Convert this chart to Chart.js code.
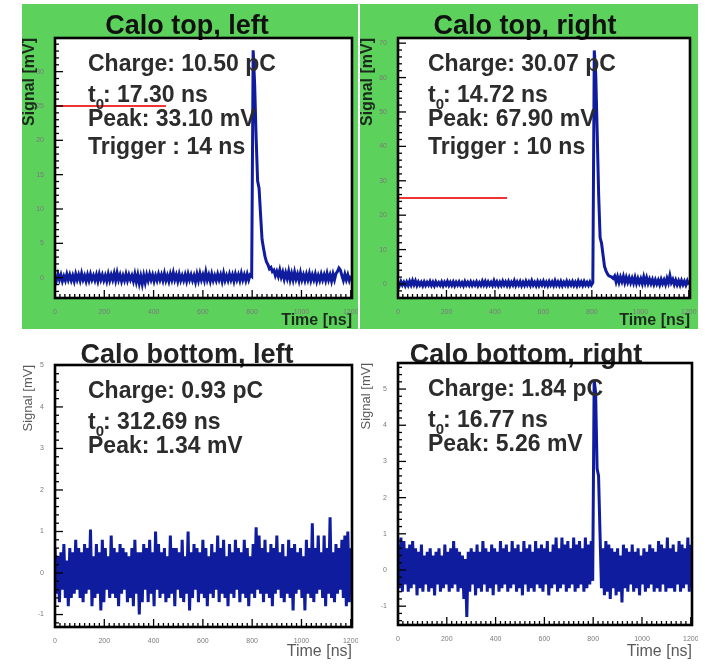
<!DOCTYPE html>
<html>
<head>
<meta charset="utf-8">
<script src="https://cdn.jsdelivr.net/npm/chart.js@4.4.1/dist/chart.umd.min.js"></script>
<style>
  html, body { margin: 0; padding: 0; background: #fff; }
  body { width: 717px; height: 664px; position: relative; overflow: hidden; }
  .panel { position: absolute; }
  .panel canvas { display: block; }
  .green { background: #5cd25c; }
</style>
</head>
<body>
<div class="panel green" style="left:22px;top:4px"><canvas id="calo-top-left" width="336" height="325"></canvas></div>
<div class="panel green" style="left:360px;top:4px"><canvas id="calo-top-right" width="338" height="325"></canvas></div>
<div class="panel" style="left:22px;top:333px"><canvas id="calo-bottom-left" width="336" height="327"></canvas></div>
<div class="panel" style="left:360px;top:333px"><canvas id="calo-bottom-right" width="338" height="327"></canvas></div>

<script>
// digitizer sampling step of the stored waveforms
const SAMPLE_NS = 6

const timeTicksNs = [0, 200, 400, 600, 800, 1000, 1200]

// waveforms [mV], one sample every SAMPLE_NS
const topLeftMv = [
  0.3,-0.4,0.5,-0.3,0.4,-0.5,0.2,-0.4,0.5,-0.3,
  0.4,-0.4,0.3,-0.5,0.5,-0.3,0.4,-0.4,0.6,-0.3,
  0.3,-0.5,0.4,-0.4,0.5,-0.3,0.3,-0.4,0.4,-0.5,
  0.5,-0.3,0.4,-0.4,0.3,-0.5,0.5,-0.4,0.4,-0.3,
  0.6,-0.4,0.7,-0.3,0.4,-0.5,0.3,-0.4,0.5,-0.4,
  0.4,-0.3,0.3,-0.5,0.5,-0.6,0.4,-0.8,0.2,-0.9,
  0.3,-0.7,0.4,-0.4,0.5,-0.3,0.4,-0.5,0.3,-0.4,
  0.5,-0.3,0.4,-0.4,0.6,-0.4,0.3,-0.5,0.5,-0.3,
  0.7,-0.3,0.4,-0.5,0.5,-0.4,0.3,-0.4,0.4,-0.5,
  0.5,-0.3,0.4,-0.4,0.3,-0.6,0.5,-0.4,0.6,-0.3,
  0.4,-0.4,0.8,-0.3,0.4,-0.5,0.5,-0.4,0.3,-0.4,
  0.5,-0.3,0.4,-0.5,0.6,-0.4,0.3,-0.4,0.5,-0.3,
  0.4,-0.5,0.5,-0.3,0.4,-0.4,0.6,-0.3,0.4,-0.4,
  0.5,-0.3,0.4,0.2,
  33.1,28.2,20.4,14.1,13.0,9.2,5.6,4.3,3.1,2.3,1.9,1.3,1.5,0.9,1.1,
  0.3,0.9,0.2,1.1,0.1,0.8,-0.2,0.7,-0.1,0.9,-0.3,
  0.6,-0.3,0.8,-0.2,0.5,-0.4,0.7,-0.3,0.4,-0.4,
  0.5,-0.3,0.6,-0.4,0.4,-0.3,0.5,-0.5,0.3,-0.4,
  0.5,-0.3,0.4,-0.4,0.6,-0.3,0.4,-0.5,0.5,-0.3,
  0.6,0.9,1.4,1.1,0.3,-0.4,0.5,-0.3,0.4,-0.4,0.3
]

const topRightMv = [
  0.6,-0.4,0.7,-0.3,0.5,-0.5,0.6,-0.4,0.8,-0.3,
  1.0,-0.2,0.9,-0.4,0.6,-0.3,0.5,-0.5,0.6,-0.4,
  0.5,-0.3,0.7,-0.4,0.5,-0.5,0.6,-0.3,0.4,-0.4,
  0.6,-0.5,0.5,-0.3,0.7,-0.4,0.5,-0.4,0.6,-0.5,
  0.5,-0.3,0.6,-0.4,0.4,-0.5,0.7,-0.3,0.5,-0.4,
  0.6,-0.4,0.5,-0.3,0.6,-0.5,0.4,-0.4,0.8,-0.3,
  0.7,-0.4,0.6,-0.3,0.5,-0.4,0.9,-0.3,0.6,-0.5,
  0.5,-0.4,0.8,-0.3,0.6,-0.4,0.7,-0.5,0.5,-0.3,
  0.9,-0.4,0.6,-0.3,0.7,-0.5,0.5,-0.4,0.8,-0.3,
  0.6,-0.4,0.9,-0.3,0.5,-0.5,0.7,-0.4,0.6,-0.3,
  0.8,-0.4,0.5,-0.5,0.7,-0.3,0.6,-0.4,0.9,-0.3,
  0.6,-0.4,0.7,-0.5,0.5,-0.3,0.8,-0.4,0.6,-0.3,
  0.7,-0.4,0.5,-0.5,0.8,-0.3,0.6,-0.4,0.7,-0.3,
  0.5,-0.4,0.6,-0.3,0.4,
  67.9,61.0,44.0,26.0,13.5,11.8,8.5,5.2,3.9,3.0,2.4,2.2,2.0,1.6,
  2.3,0.6,2.1,0.5,2.0,0.7,2.2,0.4,1.9,0.5,1.8,
  0.4,1.7,0.3,1.9,0.2,1.6,0.3,1.5,0.1,2.0,
  0.3,1.8,0.2,1.4,0.1,1.3,-0.1,1.2,0.0,1.1,
  -0.2,1.3,0.1,1.2,-0.1,1.6,0.3,2.4,0.4,1.3,
  -0.1,1.1,-0.2,0.9,-0.3,1.0,-0.2,0.8,-0.3,0.9,-0.2
]

const bottomLeftMv = [
  0.6,-0.5,0.4,-0.7,0.5,-0.4,0.7,-0.6,0.3,-0.8,
  0.6,-0.6,0.5,-0.5,0.8,-0.4,0.6,-0.6,0.5,-0.7,
  0.7,-0.5,0.6,-0.4,1.05,-0.8,0.4,-0.6,0.7,-0.5,
  0.5,-0.9,0.8,-0.7,0.6,-0.4,0.4,-0.6,0.9,-0.5,
  0.6,-0.6,0.5,-0.8,0.7,-0.5,0.6,-0.4,0.5,-0.7,
  0.4,-0.6,0.6,-0.8,0.8,-0.5,0.5,-1.0,0.5,-0.7,
  0.7,-0.4,0.6,-0.7,0.8,-0.5,0.5,-0.8,1.0,-0.4,
  0.7,-0.6,0.5,-0.5,0.6,-0.7,0.4,-0.6,0.9,-0.5,
  0.6,-0.8,0.6,-0.4,0.5,-0.6,0.8,-0.7,0.4,-0.5,
  1.0,-0.9,0.5,-0.6,0.7,-0.4,0.6,-0.7,0.5,-0.5,
  0.8,-0.6,0.6,-0.8,0.4,-0.5,0.7,-0.6,0.5,-0.4,
  0.9,-0.7,0.6,-0.5,0.8,-0.6,0.4,-0.8,0.7,-0.5,
  0.5,-0.6,0.8,-0.4,0.6,-0.7,0.5,-0.5,0.8,-0.6,
  0.6,-0.8,0.4,-0.5,0.7,-0.6,1.1,-0.4,0.9,-0.5,
  0.6,-0.7,0.8,-0.5,0.5,-0.6,0.7,-0.8,0.6,-0.5,
  0.9,-0.4,0.5,-0.6,0.7,-0.7,0.4,-0.5,0.8,-0.6,
  0.6,-0.9,0.7,-0.5,0.5,-0.4,0.6,-0.6,0.4,-0.9,
  0.8,-0.5,0.6,-0.6,1.2,-0.7,0.6,-0.5,0.9,-0.4,
  0.5,-0.6,0.9,-0.8,0.6,-0.5,1.34,-0.6,0.5,-0.7,
  0.7,-0.5,0.6,-0.4,0.8,-0.6,0.9,-0.8,1.0,-0.7,
  0.6
]

const bottomRightMv = [
  0.7,-0.5,0.9,-0.6,0.8,-0.4,0.6,-0.6,0.7,-0.5,
  0.8,-0.4,0.6,-0.7,0.5,-0.5,0.7,-0.6,0.4,-0.4,
  0.5,-0.6,0.6,-0.5,0.4,-0.7,0.5,-0.4,0.6,-0.6,
  0.4,-0.5,0.7,-0.4,0.5,-0.6,0.6,-0.5,0.8,-0.4,
  0.6,-0.6,0.5,-0.5,0.4,-0.8,0.3,-1.3,0.5,-0.6,
  0.6,-0.4,0.5,-0.7,0.7,-0.5,0.5,-0.6,0.8,-0.4,
  0.6,-0.6,0.5,-0.5,0.7,-0.7,0.6,-0.4,0.5,-0.6,
  0.8,-0.5,0.6,-0.4,0.7,-0.6,0.5,-0.5,0.8,-0.4,
  0.6,-0.6,0.7,-0.5,0.5,-0.7,0.8,-0.4,0.6,-0.6,
  0.7,-0.5,0.5,-0.6,0.8,-0.4,0.6,-0.5,0.7,-0.6,
  0.6,-0.4,0.8,-0.7,0.5,-0.5,0.7,-0.4,0.9,-0.6,
  0.6,-0.5,0.9,-0.4,0.7,-0.6,0.8,-0.5,0.6,-0.4,
  0.9,-0.6,0.7,-0.5,0.8,-0.4,0.6,-0.6,0.9,-0.5,
  0.7,-0.4,0.8,-0.3,
  5.26,4.9,2.8,2.6,1.0,-0.5,0.6,-0.7,
  0.8,-0.6,0.7,-0.8,0.6,-0.5,0.5,-0.7,
  0.6,-0.6,0.4,-0.9,0.7,-0.5,0.6,-0.6,0.5,-0.4,
  0.7,-0.6,0.5,-0.5,0.6,-0.7,0.4,-0.4,0.6,-0.6,
  0.5,-0.5,0.7,-0.4,0.6,-0.6,0.5,-0.5,0.8,-0.6,
  0.7,-0.4,0.6,-0.6,0.9,-0.5,0.6,-0.5,0.7,-0.6,
  0.5,-0.4,0.8,-0.6,0.7,-0.5,0.6,-0.4,0.9,-0.6,
  0.7
]

// reconstructed pulse parameters, one entry per channel
const chargePc = [10.50, 30.07, 0.93, 1.84]
const t0Ns = [17.30, 14.72, 312.69, 16.77]
const peakMv = [33.10, 67.90, 1.34, 5.26]
const triggerNs = [14, 10, null, null]

// discriminator threshold drawn on the top channels
const thresholdMv = [25, 25, null, null]
const thresholdWindowNs = [0, 450]

const topLeftTicks = [0, 5, 10, 15, 20, 25, 30]
const topRightTicks = [0, 10, 20, 30, 40, 50, 60, 70]
const bottomLeftTicks = [-1, 0, 1, 2, 3, 4, 5]
const bottomRightTicks = [-1, 0, 1, 2, 3, 4, 5]

const FONT = '"Liberation Sans", Arial, sans-serif'
Chart.defaults.font.family = FONT

const panels = [
  { id: 'calo-top-left', title: 'Calo top, left', signal: topLeftMv, yTicks: topLeftTicks,
    yMin: -2.96, yMax: 34.9, yMinor: 1, top: true,
    box: { yw: 33, xh: 31, padRight: 6, titleTop: 6.5, titleBottom: -4.9, textDx: 33 } },
  { id: 'calo-top-right', title: 'Calo top, right', signal: topRightMv, yTicks: topRightTicks,
    yMin: -4.07, yMax: 71.5, yMinor: 2, top: true,
    box: { yw: 38, xh: 31, padRight: 8, titleTop: 6.5, titleBottom: -4.9, textDx: 30 } },
  { id: 'calo-bottom-left', title: 'Calo bottom, left', signal: bottomLeftMv, yTicks: bottomLeftTicks,
    yMin: -1.3, yMax: 5.01, yMinor: 0.2, top: false,
    box: { yw: 33, xh: 33, padRight: 6, titleTop: 6, titleBottom: -6.4, textDx: 33 } },
  { id: 'calo-bottom-right', title: 'Calo bottom, right', signal: bottomRightMv, yTicks: bottomRightTicks,
    yMin: -1.52, yMax: 5.72, yMinor: 0.2, top: false,
    box: { yw: 38, xh: 35, padRight: 6, titleTop: 6, titleBottom: -8.4, textDx: 30 } }
]

// white pad, inward ticks and black frame like the DAQ display
const rootFrame = {
  id: 'rootFrame',
  beforeDraw(chart) {
    const { ctx, chartArea: a } = chart
    ctx.save()
    ctx.fillStyle = '#fff'
    ctx.fillRect(a.left, a.top, a.right - a.left, a.bottom - a.top)
    ctx.restore()
  },
  afterDatasetsDraw(chart, args, opts) {
    const { ctx, chartArea: a, scales } = chart
    ctx.save()
    ctx.strokeStyle = '#000'
    ctx.lineWidth = 1.3
    const drawTicks = (scale, minor, major, horizontal) => {
      const start = Math.ceil(scale.min / minor)
      const end = Math.floor(scale.max / minor)
      for (let k = start; k <= end; k++) {
        const v = Math.round(k * minor * 1000) / 1000
        const isMajor = Math.abs(v / major - Math.round(v / major)) < 1e-6
        const len = isMajor ? 8 : 4
        const p = scale.getPixelForValue(v)
        ctx.beginPath()
        if (horizontal) {
          ctx.moveTo(p, a.bottom)
          ctx.lineTo(p, a.bottom - len)
        } else {
          ctx.moveTo(a.left, p)
          ctx.lineTo(a.left + len, p)
        }
        ctx.stroke()
      }
    }
    drawTicks(scales.x, opts.xMinor, opts.xMajor, true)
    drawTicks(scales.y, opts.yMinor, opts.yMajor, false)
    ctx.lineWidth = 2.6
    ctx.strokeRect(a.left, a.top, a.right - a.left, a.bottom - a.top)
    ctx.restore()
  }
}

// fit results printed in the pad
const padNotes = {
  id: 'padNotes',
  afterDraw(chart, args, opts) {
    const { ctx, chartArea: a } = chart
    const baselines = [33, 64, 88, 116]
    ctx.save()
    ctx.fillStyle = '#2c2c2c'
    ctx.textBaseline = 'alphabetic'
    opts.lines.forEach((segments, i) => {
      let x = a.left + opts.dx
      const y = a.top + baselines[i]
      segments.forEach(seg => {
        ctx.font = seg.sub ? `bold 15px ${FONT}` : `bold 23px ${FONT}`
        ctx.fillText(seg.text, x, seg.sub ? y + 7 : y)
        x += ctx.measureText(seg.text).width - (seg.sub ? 1 : 0)
      })
    })
    ctx.restore()
  }
}

function noteLines(k) {
  const lines = [
    [{ text: `Charge: ${chargePc[k].toFixed(2)} pC` }],
    [{ text: 't' }, { text: '0', sub: true }, { text: `: ${t0Ns[k].toFixed(2)} ns` }],
    [{ text: `Peak: ${peakMv[k].toFixed(2)} mV` }]
  ]
  if (triggerNs[k] != null) lines.push([{ text: `Trigger : ${triggerNs[k]} ns` }])
  return lines
}

function buildPanel(p, k) {
  const canvas = document.getElementById(p.id)
  const axisColor = p.top ? '#1c2a1c' : '#5a5a5a'
  const datasets = [{
    data: p.signal.map((v, i) => ({ x: i * SAMPLE_NS, y: v })),
    borderColor: '#101c9e', borderWidth: 3, pointRadius: 0, tension: 0
  }]
  if (thresholdMv[k] != null) {
    datasets.push({
      data: thresholdWindowNs.map(x => ({ x, y: thresholdMv[k] })),
      borderColor: '#f03434', borderWidth: 2.2, pointRadius: 0
    })
  }
  return new Chart(canvas, {
    type: 'line',
    data: { datasets },
    plugins: [rootFrame, padNotes],
    options: {
      responsive: false, animation: false, events: [],
      layout: { padding: { left: 0, right: p.box.padRight, top: 0, bottom: 0 } },
      plugins: {
        legend: { display: false },
        tooltip: { enabled: false },
        title: {
          display: true, text: p.title, color: p.top ? '#111' : '#222',
          font: { size: 27, weight: 'bold', lineHeight: 1.2 },
          padding: { top: p.box.titleTop, bottom: p.box.titleBottom }
        },
        rootFrame: { xMinor: 20, xMajor: 200, yMinor: p.yMinor, yMajor: p.yTicks[1] - p.yTicks[0] },
        padNotes: { dx: p.box.textDx, lines: noteLines(k) }
      },
      scales: {
        x: {
          type: 'linear', min: 0, max: 1205,
          afterFit: s => { s.height = p.box.xh; s.paddingLeft = 0; s.paddingRight = 0 },
          afterBuildTicks: s => { s.ticks = timeTicksNs.map(value => ({ value })) },
          grid: { display: false }, border: { display: false },
          ticks: { font: { size: 7 }, color: '#7a7a7a', padding: 2, maxRotation: 0, autoSkip: false,
                   callback: v => String(v) },
          title: {
            display: true, text: 'Time [ns]', align: 'end', color: axisColor, padding: 0,
            font: { size: 16, weight: p.top ? 'bold' : 'normal', lineHeight: 1 }
          }
        },
        y: {
          type: 'linear', min: p.yMin, max: p.yMax,
          afterFit: s => { s.width = p.box.yw; s.paddingTop = 0; s.paddingBottom = 0 },
          afterBuildTicks: s => { s.ticks = p.yTicks.map(value => ({ value })) },
          grid: { display: false }, border: { display: false },
          ticks: { font: { size: 7 }, color: '#7a7a7a', padding: 3, autoSkip: false,
                   callback: v => String(v) },
          title: {
            display: true, text: 'Signal [mV]', align: 'end', color: axisColor, padding: 0,
            font: { size: p.top ? 16 : 13, weight: p.top ? 'bold' : 'normal', lineHeight: 1 }
          }
        }
      }
    }
  })
}

panels.forEach(buildPanel)
</script>
</body>
</html>
